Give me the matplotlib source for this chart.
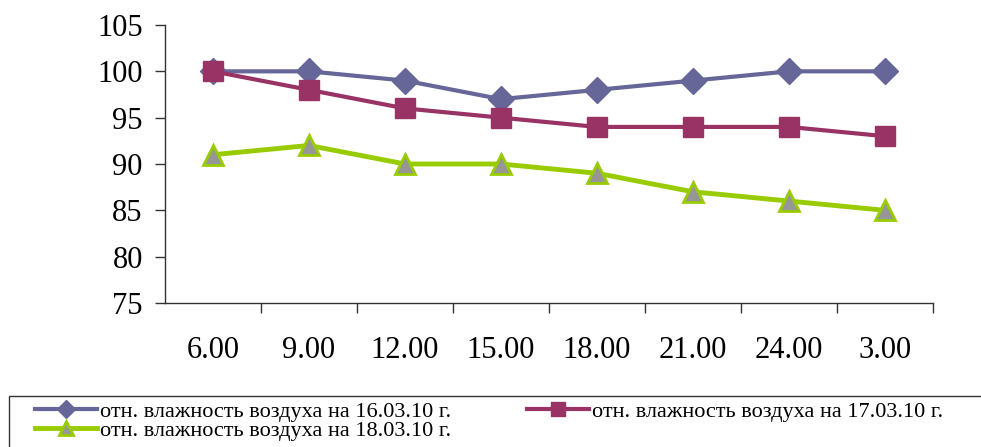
import numpy as np
import matplotlib.pyplot as plt
from matplotlib.patches import Rectangle

hours = ["6.00", "9.00", "12.00", "15.00", "18.00", "21.00", "24.00", "3.00"]
hum_16 = [100, 100, 99, 97, 98, 99, 100, 100]
hum_17 = [100, 98, 96, 95, 94, 94, 94, 93]
hum_18 = [91, 92, 90, 90, 89, 87, 86, 85]
labels = ["отн. влажность воздуха на 16.03.10 г.",
          "отн. влажность воздуха на 17.03.10 г.",
          "отн. влажность воздуха на 18.03.10 г."]

plt.rcParams['font.family'] = ['Liberation Serif', 'DejaVu Serif']

fig = plt.figure(figsize=(9.81, 4.47), dpi=100)
ax = fig.add_axes([165/981, 1-303/447, (933-165)/981, (303-25)/447])

x = np.arange(len(hours))
l1, = ax.plot(x, hum_16, color="#666699", lw=3, marker="D", ms=13,
              mfc="#666699", mec="#666699", clip_on=False)
l2, = ax.plot(x, hum_17, color="#993366", lw=3, marker="s", ms=14,
              mfc="#993366", mec="#993366", clip_on=False)
l3, = ax.plot(x, hum_18, color="#99CC00", lw=3.5, marker="^", ms=15,
              mfc="#969696", mec="#99CC00", mew=2, clip_on=False)

ax.set_xlim(-0.5, len(hours) - 0.5)
ax.set_ylim(75, 105)
ax.set_yticks(range(75, 106, 5))
ax.tick_params(axis='y', direction='out', length=7, width=1, labelsize=22, pad=9,
               color='#333333')
ax.set_xticks(x)
ax.set_xticklabels(hours)
ax.tick_params(axis='x', which='major', length=0, labelsize=22, pad=24)
ax.set_xticks(np.arange(0.5, len(hours), 1), minor=True)
ax.tick_params(axis='x', which='minor', direction='out', length=7, width=1,
               color='#333333')

for s in ['top', 'right']:
    ax.spines[s].set_visible(False)
for s in ['left', 'bottom']:
    ax.spines[s].set_color('#333333')
    ax.spines[s].set_linewidth(1)

# legend box running off the bottom/right edge
fig.patches.append(Rectangle((9/981, -0.2), 1.2, 0.2 + 1 - 396/447,
                             transform=fig.transFigure, fill=False,
                             edgecolor='#333333', lw=1))

leg = fig.legend([l1, l3, l2], [labels[0], labels[2], labels[1]], ncol=2,
                 loc='upper left', bbox_to_anchor=(35/981, 1 - 401/447),
                 frameon=False, fontsize=16,
                 handlelength=2.8, handletextpad=0.13, borderpad=0,
                 labelspacing=-0.05, columnspacing=3.4, borderaxespad=0,
                 markerscale=0.7)

fig.savefig("out.png", dpi=100)
